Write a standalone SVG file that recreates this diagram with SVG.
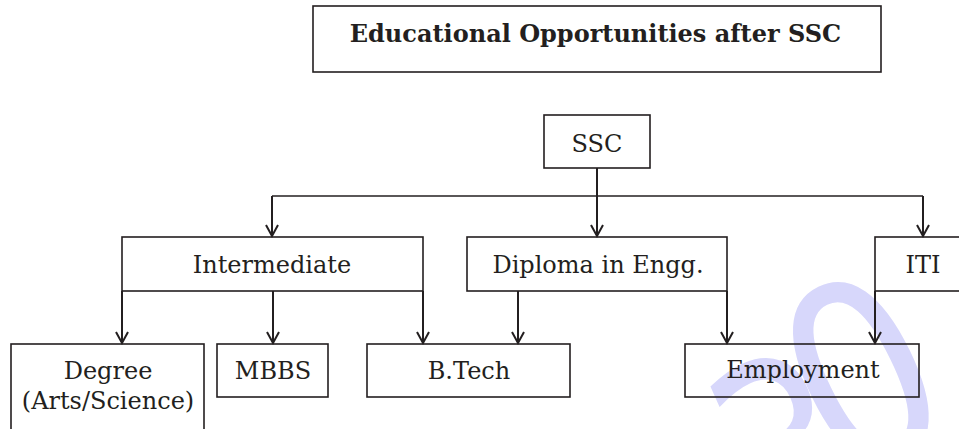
<svg xmlns="http://www.w3.org/2000/svg" width="959" height="429" viewBox="0 0 959 429">
<defs>
<style>
.box{fill:none;stroke:#231f20;stroke-width:1.6}
.t{font-family:"DejaVu Serif","Liberation Serif",serif;font-size:24px;fill:#231f20;text-anchor:middle}
.title{font-family:"DejaVu Serif","Liberation Serif",serif;font-size:24px;font-weight:bold;fill:#231f20;text-anchor:middle}
.c{fill:none;stroke:#231f20;stroke-width:2}
.h{fill:none;stroke:#231f20;stroke-width:1.5}
.wm{font-family:"DejaVu Sans",sans-serif;font-size:256px;fill:#d7d7fb;text-anchor:middle}
</style>
<marker id="arr" viewBox="-1 -1 14 14" markerWidth="14" markerHeight="14" refX="11" refY="6" orient="auto" markerUnits="userSpaceOnUse">
<path d="M0,0 L11,6 L0,12" fill="none" stroke="#231f20" stroke-width="2"/>
</marker>
</defs>
<rect width="959" height="429" fill="#fff"/>
<g id="watermark">
<text class="wm" transform="translate(786,448) rotate(-24) scale(0.78,1)" x="0" y="95">3</text>
<text class="wm" transform="translate(860,372) rotate(-26) scale(0.84,1)" x="0" y="95">0</text>
</g>
<g id="title">
<rect class="box" x="313" y="6" width="568" height="66"/>
<text class="title" x="595.5" y="42">Educational Opportunities after SSC</text>
</g>
<g id="connectors">
<path class="h" d="M272,196 H923"/>
<path class="c" d="M597,168 V236" marker-end="url(#arr)"/>
<path class="c" d="M272,196 V236" marker-end="url(#arr)"/>
<path class="c" d="M923,196 V236" marker-end="url(#arr)"/>
<path class="c" d="M122,291 V343" marker-end="url(#arr)"/>
<path class="c" d="M273,291 V343" marker-end="url(#arr)"/>
<path class="c" d="M423,291 V343" marker-end="url(#arr)"/>
<path class="c" d="M518,291 V343" marker-end="url(#arr)"/>
<path class="c" d="M727,291 V343" marker-end="url(#arr)"/>
<path class="c" d="M875,291 V343" marker-end="url(#arr)"/>
</g>
<g id="ssc">
<rect class="box" x="544" y="115" width="106" height="53"/>
<text class="t" x="597" y="152">SSC</text>
</g>
<g id="intermediate">
<rect class="box" x="122" y="237" width="301" height="54"/>
<text class="t" x="272" y="273">Intermediate</text>
</g>
<g id="diploma">
<rect class="box" x="467" y="237" width="260" height="54"/>
<text class="t" x="598" y="273">Diploma in Engg.</text>
</g>
<g id="iti">
<rect class="box" x="875" y="237" width="100" height="54"/>
<text class="t" x="923" y="273">ITI</text>
</g>
<g id="degree">
<rect class="box" x="11" y="344" width="193" height="100"/>
<text class="t" x="108" y="379">Degree</text>
<text class="t" x="108" y="409">(Arts/Science)</text>
</g>
<g id="mbbs">
<rect class="box" x="217" y="344" width="111" height="53"/>
<text class="t" x="273" y="379">MBBS</text>
</g>
<g id="btech">
<rect class="box" x="367" y="344" width="203" height="53"/>
<text class="t" x="469" y="379">B.Tech</text>
</g>
<g id="employment">
<rect class="box" x="685" y="344" width="234" height="53"/>
<text class="t" x="803" y="378">Employment</text>
</g>
</svg>
